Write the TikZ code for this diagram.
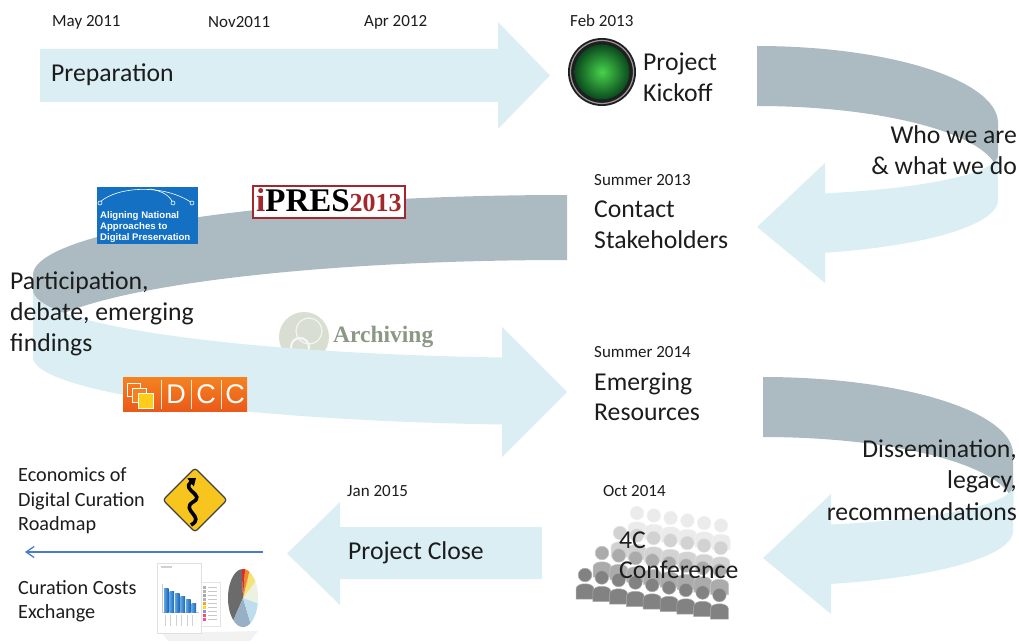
\documentclass[tikz,border=0pt]{standalone}
\usepackage{fontspec}
\setmainfont{Carlito}
\newfontfamily\logoserif{Liberation Serif}
\newfontfamily\logosans{Liberation Sans}
\usetikzlibrary{arrows.meta}

\definecolor{flowblue}{HTML}{DAEEF3}
\definecolor{backgray}{HTML}{ABBBC1}
\definecolor{ink}{HTML}{1C1C1C}
\definecolor{linkblue}{HTML}{4A7BC8}
\definecolor{anadpblue}{HTML}{1370C2}
\definecolor{iprered}{HTML}{A3282B}
\definecolor{dcctop}{HTML}{F5821F}
\definecolor{dccbottom}{HTML}{EA5A1A}
\definecolor{dccyellow}{HTML}{FFCC1A}
\definecolor{archtext}{HTML}{8A9884}
\definecolor{archdisc}{HTML}{D9DED3}
\definecolor{greenlight}{HTML}{47D34A}
\definecolor{greendark}{HTML}{0A4A1E}
\definecolor{signyellow}{HTML}{F7C51E}
\definecolor{barlight}{HTML}{5AA6E6}
\definecolor{bardark}{HTML}{1E63B0}
\definecolor{crowdA}{HTML}{EBEBEB}
\definecolor{crowdB}{HTML}{D2D2D2}
\definecolor{crowdC}{HTML}{ABABAB}
\definecolor{crowdD}{HTML}{828282}
\definecolor{pieA}{HTML}{6B6B6B}
\definecolor{pieB}{HTML}{98B0C6}
\definecolor{pieC}{HTML}{BEDEEE}
\definecolor{pieD}{HTML}{ECF2E2}
\definecolor{pieE}{HTML}{F6E278}
\definecolor{pieF}{HTML}{F08A2C}
\definecolor{pieG}{HTML}{D7302A}

% U-turn ribbon: grey back half on top, pale front half ending in a left-pointing head
% #1 = x of the left end, #2 = vertical shift, #3 = horizontal radius
\newcommand\uturnarrow[3]{%
  \pgfmathsetmacro\uturnend{acos(68/#3)}%
  \begin{scope}[shift={(0,#2)}]
    \fill[band] plot[domain=-90:0,samples=60,variable=\t] ({#1+#3*cos(\t)},{123+77*sin(\t)})
      -- plot[domain=0:-90,samples=60,variable=\t] ({#1+#3*cos(\t)},{175+69*sin(\t)}) -- cycle;
    \fill[flow] plot[domain=0:\uturnend,samples=60,variable=\t] ({#1+#3*cos(\t)},{155+40*sin(\t)})
      -- ({#1+68},163) -- (#1,227) -- ({#1+68},283)
      -- plot[domain=\uturnend:0,samples=60,variable=\t] ({#1+#3*cos(\t)},{200+55*sin(\t)}) -- cycle;
  \end{scope}}

\begin{document}
\begin{tikzpicture}[x=1pt,y=-1pt,
  lbl/.style={inner sep=0pt, text=ink, align=left, anchor=west},
  rlbl/.style={inner sep=0pt, text=ink, align=right, anchor=east},
  bigtext/.style={font=\fontsize{25.7}{30.5}\selectfont},
  datetext/.style={font=\fontsize{17}{20}\selectfont},
  midtext/.style={font=\fontsize{20.2}{24.5}\selectfont},
  band/.style={fill=backgray},
  flow/.style={fill=flowblue},
  person/.style={fill=#1, draw=white!35!#1, line width=0.5pt}
]
\useasboundingbox (0,0) rectangle (1019,644);

% ---- straight arrows ----
\fill[flow] (40,49) -- (498,49) -- (498,22) -- (550,75.5) -- (498,129) -- (498,102) -- (40,102) -- cycle;
\fill[flow] (542,527) -- (340,527) -- (340,502) -- (287,553.5) -- (340,605) -- (340,579) -- (542,579) -- cycle;

% ---- right-hand U-turns ----
\uturnarrow{757}{0}{241}
\uturnarrow{763}{331}{250}

% ---- long left ribbon: grey back half ----
\fill[band] plot[domain=-90:-180,samples=90,variable=\t] ({567+534*cos(\t)},{275+80*sin(\t)})
  -- plot[domain=-180:-90,samples=90,variable=\t] ({567+534*cos(\t)},{340+80*sin(\t)}) -- cycle;

% Archiving logo (partly hidden by the ribbon front)
\fill[archdisc] (304,337) circle (25);
\draw[white!80!archdisc, line width=2pt] (300,347) circle (9);
\draw[white!70!archdisc, line width=1.2pt] (309,331) circle (13);
\node[inner sep=0, anchor=west, text=archtext, font=\logoserif\bfseries\fontsize{23.5}{24}\selectfont] (arch) at (333,337) {Archiving};

% ---- long left ribbon: pale front half with right-pointing head ----
\fill[flow] plot[domain=180:96.99,samples=90,variable=\t] ({567+534*cos(\t)},{290+68*sin(\t)})
  -- (502,327) -- (567,392) -- (502,457)
  -- plot[domain=96.99:180,samples=90,variable=\t] ({567+534*cos(\t)},{357+68*sin(\t)}) -- cycle;

% ANADP logo
\fill[anadpblue] (97,187) rectangle (198,244);
\draw[white, line width=0.6pt] (100,202) .. controls (118,186) and (165,184) .. (192,203);
\draw[white, line width=0.6pt] (150,189) .. controls (163,191) and (170,196) .. (173,203);
\foreach \cx in {100,173,192} \draw[white, line width=0.6pt, fill=anadpblue] (\cx,203) circle (2);
\node[inner sep=0, anchor=west, align=left, text=white, font=\logosans\bfseries\fontsize{9.6}{10.6}\selectfont] (anadp) at (100,227) {Aligning National\\Approaches to\\Digital Preservation};

% iPRES logo
\draw[iprered, line width=1.8pt, fill=white] (253,186) rectangle (405,218);
\node[inner sep=0, anchor=base west, font=\logoserif\bfseries] (ipres) at (256,212)
  {\fontsize{33}{33}\selectfont{\color{iprered}i}PRES\fontsize{26}{26}\selectfont{\color{iprered}2013}};

% DCC logo
\shade[top color=dcctop, bottom color=dccbottom] (123,377) rectangle (247,411);
\draw[white, line width=1pt] (127,383) rectangle (140,396);
\draw[white, line width=1pt, fill=dcctop] (132,388) rectangle (146,402);
\draw[white, line width=1pt, fill=dccyellow] (138,393) rectangle (153,408);
\foreach \sx in {161,191,221} \draw[white!80!dcctop, line width=0.5pt] (\sx,380) -- (\sx,409);
\node[inner sep=0, text=white, font=\logosans\fontsize{27}{27}\selectfont] (dccD) at (176,394.5) {D};
\node[inner sep=0, text=white, font=\logosans\fontsize{27}{27}\selectfont] (dccC1) at (206,394.5) {C};
\node[inner sep=0, text=white, font=\logosans\fontsize{27}{27}\selectfont] (dccC2) at (235,394.5) {C};

% ---- kickoff button ----
\fill[black!88] (602,72) circle (34);
\draw[black!40, line width=1.2pt] (602,72) circle (31.5);
\shade[inner color=greenlight, outer color=greendark] (602,72) circle (27.5);

% ---- conference crowd: rows from back (light) to front (dark) ----
\foreach \sx/\sy/\n/\col in {637/513/6/crowdA, 620/533/7/crowdB, 602/553/8/crowdC, 585/575/9/crowdD}{
  \foreach \i in {1,...,\n}{
    \pgfmathsetmacro\px{\sx+16.8*(\i-1)}
    \pgfmathsetmacro\py{\sy+2.5*(\i-1)}
    \fill[person=\col] ({\px-9},{\py+24}) -- ({\px-9},{\py+14})
      .. controls ({\px-9},{\py+7}) and ({\px+9},{\py+7}) .. ({\px+9},{\py+14})
      -- ({\px+9},{\py+24}) -- cycle;
    \fill[person=\col] (\px,\py) circle (6.8);
  }
}

% ---- road sign ----
\fill[signyellow, draw=black!75, line width=1.2pt, rounded corners=3pt] (195,468) -- (227,500) -- (195,532) -- (163,500) -- cycle;
\draw[black, line width=3.6pt, -{Triangle[length=7pt,width=10pt]}]
  (191,525) .. controls (206,517) and (180,510) .. (193,502) .. controls (206,495) and (181,490) .. (196,478);

% ---- cost charts ----
\fill[black!5] (162,633) -- (258,631) -- (250,641) -- (168,641) -- cycle;
\fill[white, draw=black!12, line width=0.5pt] (157,563) rectangle (201,633);
\fill[black!18] (161,566) rectangle (172,568);
\draw[black!20, line width=0.4pt] (162,584) -- (162,612) -- (199,612);
\foreach \bx/\by in {164/588, 169.5/591, 175/593, 180.5/596, 186/599, 191.5/603}
  \shade[left color=barlight, right color=bardark] (\bx,\by) rectangle ({\bx+4.5},612);
\foreach \bx in {165,170.5,176,181.5,187,192.5}
  \draw[black!18, line width=0.6pt] (\bx,615) -- (\bx,626);
\fill[white, draw=black!10, line width=0.4pt] (201,582) rectangle (220,626);
\foreach \k/\c in {0/black!30, 1/black!30, 2/black!35, 3/black!30, 4/orange!80, 5/yellow!80!orange, 6/blue!45, 7/red!70, 8/magenta!70}{
  \fill[\c] (203,{586+4*\k}) rectangle (206,{588.6+4*\k});
  \fill[black!22] (207.5,{586.8+4*\k}) rectangle (217,{587.9+4*\k});
}
\begin{scope}[shift={(243,598)}]
  \foreach \a/\b/\c in {130/265/pieA, 60/130/pieB, 10/60/pieC, -35/10/pieD, -65/-35/pieE, -82/-65/pieF, -95/-82/pieG}
    \fill[fill=\c] (0,0) -- plot[domain=\a:\b,samples=30,variable=\t] ({15*cos(\t)},{29*sin(\t)}) -- cycle;
\end{scope}

% ---- link from project close to the legacy outputs ----
\coordinate (closeEnd) at (263,552);
\coordinate (legacyEnd) at (25,552);
\draw[linkblue, line width=1.3pt, -{Straight Barb[length=8pt,width=11pt]}] (closeEnd) -- (legacyEnd);

% ---- dates ----
\node[lbl,datetext] (d1) at (52,22) {May 2011};
\node[lbl,datetext] (d2) at (208,22) {Nov2011};
\node[lbl,datetext] (d3) at (364,22) {Apr 2012};
\node[lbl,datetext] (d4) at (570,21) {Feb 2013};
\node[lbl,datetext] (d5) at (594,180) {Summer 2013};
\node[lbl,datetext] (d6) at (594,352) {Summer 2014};
\node[lbl,datetext] (d7) at (603,491) {Oct 2014};
\node[lbl,datetext] (d8) at (347,491) {Jan 2015};

% ---- stage labels ----
\node[lbl,bigtext] (prep) at (51,75) {Preparation};
\node[lbl,bigtext] (kick) at (643,77) {Project\\Kickoff};
\node[rlbl,bigtext] (who) at (1017,150) {Who we are\\\& what we do};
\node[lbl,bigtext] (contact) at (594,225) {Contact\\Stakeholders};
\node[lbl,font=\fontsize{25.7}{31}\selectfont] (part) at (10,314) {Participation,\\debate, emerging\\findings};
\node[lbl,bigtext] (emerg) at (594,397) {Emerging\\Resources};
\node[rlbl,font=\fontsize{25.7}{31.5}\selectfont] (dissem) at (1017,480) {Dissemination,\\legacy,\\recommendations};
\node[lbl,bigtext] (conf) at (619,555) {4C\\Conference};
\node[lbl,bigtext] (close) at (348,553) {Project Close};
\node[lbl,midtext] (roadmap) at (18,501) {Economics of\\Digital Curation\\Roadmap};
\node[lbl,midtext] (ccex) at (18,601) {Curation Costs\\Exchange};
\end{tikzpicture}
\end{document}
